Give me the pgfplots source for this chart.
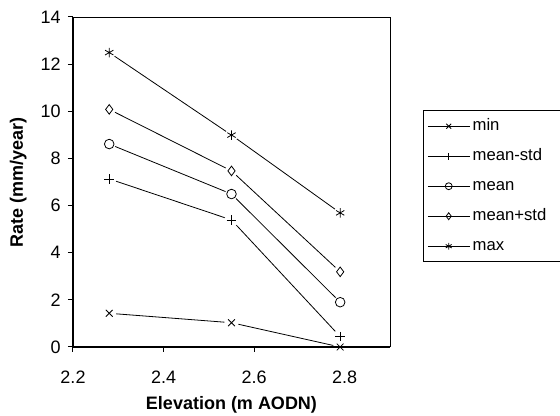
\documentclass[border=0pt]{standalone}
\usepackage{pgfplots}
\pgfplotsset{compat=1.18}
\usepackage{fontspec}
\setmainfont{Liberation Sans}
\begin{document}
\begin{tikzpicture}
\useasboundingbox (-54.75pt,-51.75pt) rectangle (365.25pt,260.25pt);
\begin{axis}[
  name=main,
  at={(0,0)}, anchor=south west,
  scale only axis, width=237.75pt, height=247.5pt,
  xmin=2.2, xmax=2.9, ymin=0, ymax=14,
  xtick={2.2,2.4,2.6,2.8}, ytick={0,2,...,14},
  xticklabels={2.2,2.4,2.6,2.8},
  xtick pos=left, ytick pos=left,
  tick align=outside, major tick length=3.75pt,
  tick style={black, line width=0.75pt},
  axis line style={draw=none},
  ticklabel style={font=\fontsize{13.5}{15}\selectfont},
  xticklabel style={yshift=-11pt},
  yticklabel style={xshift=-2pt},
  /pgf/number format/assume math mode=true,
  xlabel={\textbf{Elevation (m AODN)}},
  ylabel={\textbf{Rate (mm/year)}},
  label style={font=\fontsize{13.5}{16}\selectfont},
  xlabel style={at={(axis description cs:0.5,0)}, anchor=center, yshift=-43.5pt},
  ylabel style={at={(axis description cs:0,0.5)}, anchor=center, yshift=41pt},
  clip=false,
  legend style={at={(axis description cs:1.104,0.718)}, anchor=north west,
    draw=black, line width=0.75pt, font=\fontsize{12.5}{15}\selectfont,
    row sep=7pt, inner xsep=3pt, inner ysep=4pt,
    nodes={text height=9pt, text depth=2.5pt, text width=80pt, align=left}},
  legend cell align=left,
  legend image code/.code={\draw[#1, line width=0.6pt, mark repeat=2, mark phase=2] plot coordinates {(0cm,0cm) (0.55cm,0cm) (1.1cm,0cm)};},
  every axis plot/.append style={black, line width=0.6pt},
]
% lines
\addplot[no marks, forget plot] coordinates {(2.28,1.43) (2.55,1.03) (2.79,0.0)};
\addplot[no marks, forget plot] coordinates {(2.28,7.13) (2.55,5.39) (2.79,0.44)};
\addplot[no marks, forget plot] coordinates {(2.28,8.61) (2.55,6.49) (2.79,1.90)};
\addplot[no marks, forget plot] coordinates {(2.28,10.08) (2.55,7.47) (2.79,3.19)};
\addplot[no marks, forget plot] coordinates {(2.28,12.49) (2.55,8.99) (2.79,5.69)};
% white halos (gaps around markers)
\addplot[only marks, mark=*, mark size=5pt, mark options={white, draw=white}, forget plot] coordinates {(2.28,1.43) (2.55,1.03) (2.79,0.0)};
\addplot[only marks, mark=*, mark size=5pt, mark options={white, draw=white}, forget plot] coordinates {(2.28,7.13) (2.55,5.39) (2.79,0.44)};
\addplot[only marks, mark=*, mark size=4.5pt, mark options={white, draw=white}, forget plot] coordinates {(2.28,8.61) (2.55,6.49) (2.79,1.90)};
\addplot[only marks, mark=*, mark size=4.5pt, mark options={white, draw=white}, forget plot] coordinates {(2.28,10.08) (2.55,7.47) (2.79,3.19)};
\addplot[only marks, mark=*, mark size=4.5pt, mark options={white, draw=white}, forget plot] coordinates {(2.28,12.49) (2.55,8.99) (2.79,5.69)};
% markers
\addplot[only marks, mark=x, mark size=3.6pt, forget plot] coordinates {(2.28,1.43) (2.55,1.03) (2.79,0.0)};
\addplot[only marks, mark=+, mark size=3.6pt, forget plot] coordinates {(2.28,7.13) (2.55,5.39) (2.79,0.44)};
\addplot[only marks, mark=o, mark size=3.6pt, forget plot] coordinates {(2.28,8.61) (2.55,6.49) (2.79,1.90)};
\addplot[only marks, mark=diamond, mark size=3.6pt, forget plot] coordinates {(2.28,10.08) (2.55,7.47) (2.79,3.19)};
\addplot[only marks, mark=asterisk, mark size=3.6pt, forget plot] coordinates {(2.28,12.49) (2.55,8.99) (2.79,5.69)};
% legend entries
\addlegendimage{black, mark=x, mark size=2.6pt}
\addlegendimage{black, mark=+, mark size=2.6pt}
\addlegendimage{black, mark=o, mark size=2.6pt, mark options={fill=white}}
\addlegendimage{black, mark=diamond, mark size=2.6pt, mark options={fill=white}}
\addlegendimage{black, mark=asterisk, mark size=2.6pt}
\legend{min, mean-std, mean, mean+std, max}
\end{axis}
\draw[color=black, line width=0.6pt] (main.north west) -- (main.north east) -- (main.south east);
\draw[color=black, line width=0.9pt] (main.north west) -- (main.south west) -- (main.south east);
\end{tikzpicture}
\end{document}
